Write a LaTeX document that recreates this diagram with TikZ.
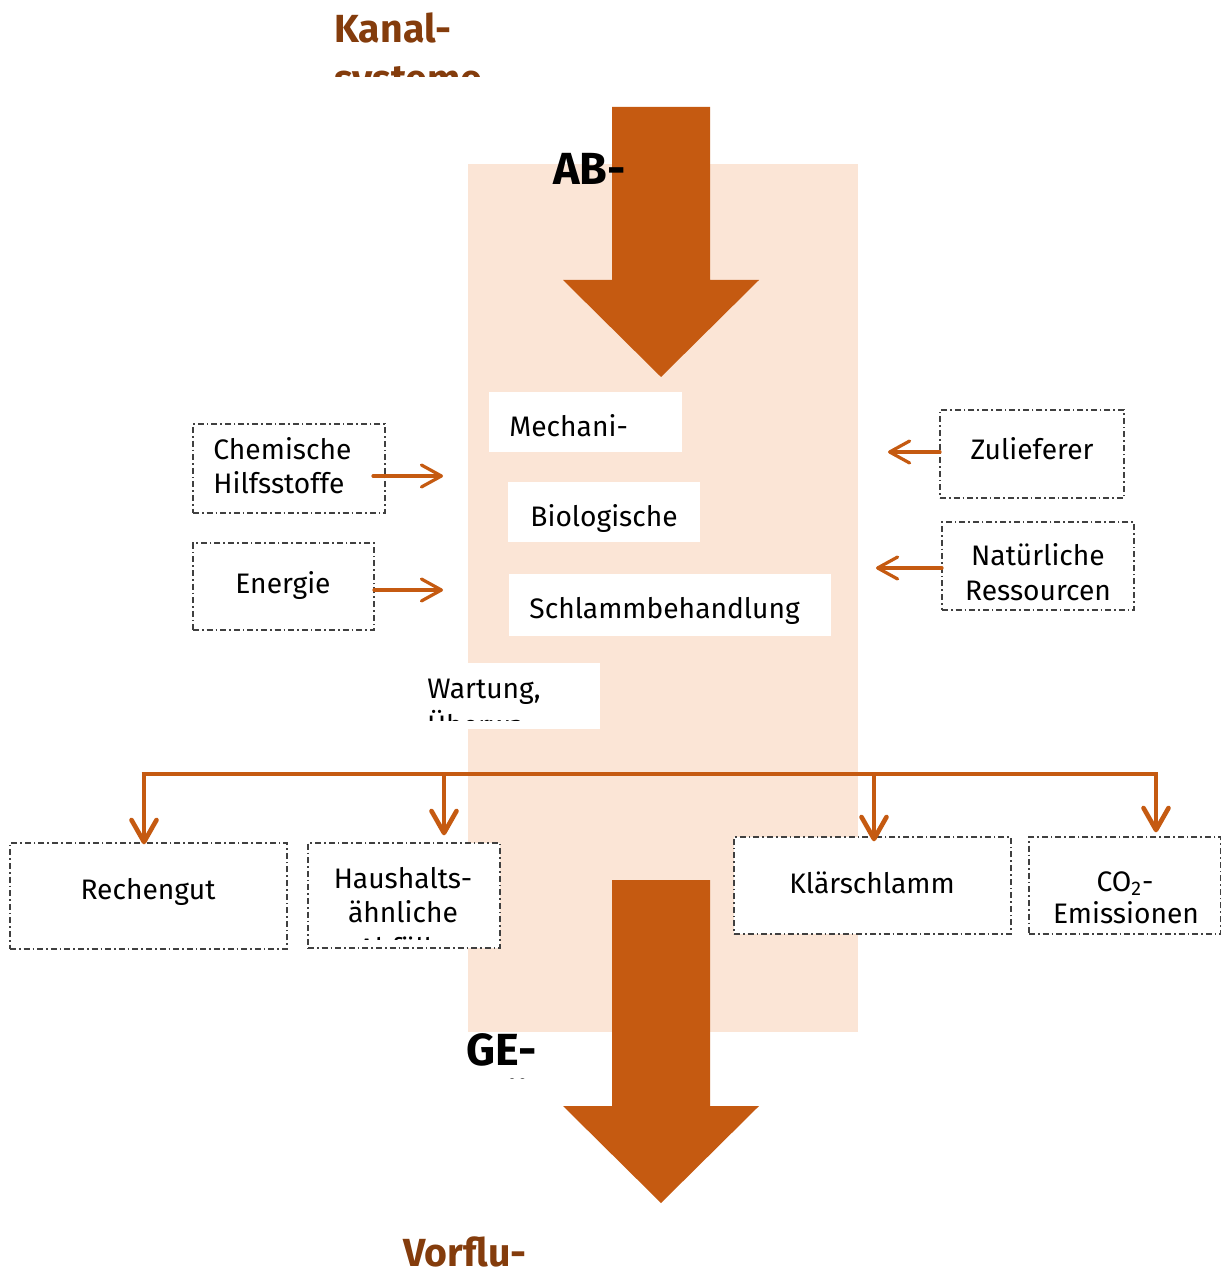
\documentclass[tikz,border=0pt]{standalone}
\usepackage{fontspec}
\setmainfont{Fira Sans}
\usetikzlibrary{arrows.meta}
\definecolor{arrowc}{HTML}{C55A11}
\definecolor{peach}{HTML}{FBE5D6}
\definecolor{brownc}{HTML}{843C0C}
\definecolor{borderc}{HTML}{404040}
\begin{document}
\begin{tikzpicture}[x=0.5pt,y=-0.5pt,
  dashbox/.style={draw=borderc, line width=0.7pt, dash pattern=on 3pt off 1.5pt on 0.8pt off 1.5pt, fill=white, inner sep=0pt},
  whitebox/.style={fill=white, draw=none, inner sep=0pt},
  body/.style={font=\fontsize{14.1}{17}\selectfont, inner sep=0pt, text=black},
  brownlabel/.style={font=\fontsize{19.6}{24}\selectfont\bfseries, inner sep=0pt, text=brownc},
  biglabel/.style={font=\fontsize{22.5}{27}\selectfont\bfseries, inner sep=0pt, text=black},
  sidearrow/.style={draw=arrowc, line width=1.6pt, line cap=round, -{Straight Barb[length=10pt,width=11pt,round]}},
  distline/.style={draw=arrowc, line width=2.3pt},
  distarrow/.style={draw=arrowc, line width=2.3pt, -{Straight Barb[length=11pt,width=12.5pt,round]}},
  bigarrow/.style={fill=arrowc, draw=none}
]
\useasboundingbox (0,0) rectangle (1220,1277);
\fill[white] (0,0) rectangle (1220,1277);

% background column
\fill[peach] (468,164) rectangle (858,1032);

% white process boxes
\node[whitebox, minimum width=96.5pt, minimum height=30pt] (mech) at (585.5,422) {};
\node[whitebox, minimum width=96pt, minimum height=30pt] (bio) at (604,512) {};
\node[whitebox, minimum width=161pt, minimum height=31pt] (schl) at (670,605) {};
\node[whitebox, minimum width=90pt, minimum height=33pt] (wart) at (510,696) {};

\node[body, anchor=base west] at (509,437) {Mechani-};
\node[body, anchor=base west] at (530,526) {Biologische};
\node[body, anchor=base west] at (529,618) {Schlammbehandlung};
\begin{scope}
\clip (400,663) rectangle (600,720);
\node[body, anchor=base west] at (427,698) {Wartung,};
\node[body, anchor=base west] at (427,735) {Überwa-};
\end{scope}

% big arrows
\fill[bigarrow] (612,107) -- (710,107) -- (710,280) -- (759,280) -- (661,377) -- (563,280) -- (612,280) -- cycle;
\fill[bigarrow] (612,880) -- (710,880) -- (710,1106) -- (759,1106) -- (661,1203) -- (563,1106) -- (612,1106) -- cycle;

% big labels
\begin{scope}
\clip (320,0) rectangle (520,77);
\node[brownlabel, anchor=base west] (kanal) at (334,43) {Kanal-};
\node[brownlabel, anchor=base west] at (334,93) {systeme};
\end{scope}
\node[biglabel, anchor=base west] (ab) at (553,185) {AB-};
\begin{scope}
\clip (440,1020) rectangle (560,1078);
\node[biglabel, anchor=base west] (ge) at (466,1065) {GE-};
\node[biglabel, anchor=base west] at (466,1120) {WÄSSER};
\end{scope}
\node[brownlabel, anchor=base west] (vorfl) at (403,1266) {Vorflu-};

% input boxes (left)
\node[dashbox, minimum width=96pt, minimum height=44.5pt] (chem) at (289,468.5) {};
\node[body, anchor=base west] at (213,460) {Chemische};
\node[body, anchor=base west] at (213,494) {Hilfsstoffe};
\node[dashbox, minimum width=90.5pt, minimum height=43.5pt] (ener) at (283.5,586.5) {};
\node[body, anchor=base] at (283,593) {Energie};

% input boxes (right)
\node[dashbox, minimum width=92pt, minimum height=44pt] (zul) at (1032,454) {};
\node[body, anchor=base] at (1032,460) {Zulieferer};
\node[dashbox, minimum width=96pt, minimum height=44pt] (nat) at (1038,566) {};
\node[body, anchor=base] at (1038,565) {Natürliche};
\node[body, anchor=base] at (1038,600) {Ressourcen};

% side arrows
\coordinate (chemout) at (373,476);
\coordinate (chemin) at (443,476);
\coordinate (enerout) at (374,590);
\coordinate (enerin) at (443,590);
\coordinate (zulout) at (940,452);
\coordinate (zulin) at (888,452);
\coordinate (natout) at (942,568);
\coordinate (natin) at (876,568);
\draw[sidearrow] (chemout) -- (chemin);
\draw[sidearrow] (enerout) -- (enerin);
\draw[sidearrow] (zulout) -- (zulin);
\draw[sidearrow] (natout) -- (natin);

% output boxes
\node[dashbox, minimum width=138.5pt, minimum height=53pt] (rech) at (148.5,896) {};
\node[body, anchor=base] at (148,899) {Rechengut};
\node[dashbox, minimum width=96pt, minimum height=52.5pt] (haus) at (404,895.5) {};
\node[body, anchor=base] at (403,888) {Haushalts-};
\node[body, anchor=base] at (403,922) {ähnliche};
\begin{scope}
\clip (310,930) rectangle (498,939);
\node[body, anchor=base] at (403,958) {Abfälle};
\end{scope}
\node[dashbox, minimum width=138.5pt, minimum height=48.5pt] (klae) at (872.5,885.5) {};
\node[body, anchor=base] at (872,893) {Klärschlamm};
\node[dashbox, minimum width=96pt, minimum height=48.5pt] (co2) at (1125,885.5) {};
\node[body, anchor=base] at (1125,891) {CO\textsubscript{2}-};
\node[body, anchor=base] at (1126,923) {Emissionen};

% distribution
\coordinate (j1) at (144,774);
\coordinate (j2) at (444,774);
\coordinate (j3) at (874,774);
\coordinate (j4) at (1156,774);
\draw[distline, line cap=butt] ([xshift=-1.15pt]j1) -- ([xshift=1.15pt]j4);
\draw[distarrow, shorten >=-1pt] (j1) -- (j1 |- rech.north);
\draw[distarrow, shorten >=3.5pt] (j2) -- (j2 |- haus.north);
\draw[distarrow, shorten >=-2.5pt] (j3) -- (j3 |- klae.north);
\draw[distarrow, shorten >=2pt] (j4) -- (j4 |- co2.north);
\end{tikzpicture}
\end{document}
